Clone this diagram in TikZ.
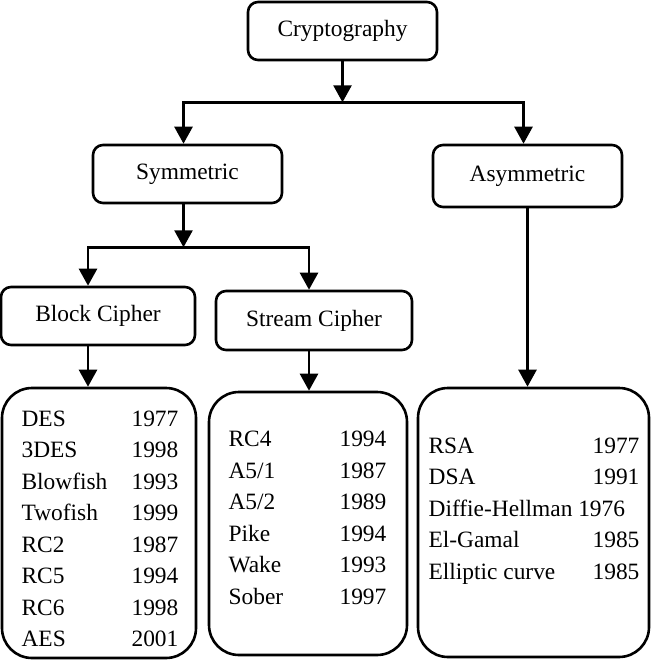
\documentclass[tikz,border=0pt]{standalone}
\usepackage{fontspec}
\setmainfont{Liberation Serif}
\usepackage{tikz}
\usetikzlibrary{positioning,arrows.meta,calc}

\begin{document}
\begin{tikzpicture}[x=0.5pt,y=-0.5pt,font=\fontsize{11.7}{15.75}\selectfont,
  catbox/.style={draw,line width=1.3pt,rounded corners=5pt,inner sep=0pt,
                 minimum width=94.5pt,minimum height=29pt},
  framebox/.style={draw,line width=1.3pt,rounded corners=15pt,inner sep=0pt},
  link/.style={line width=1.3pt},
  arr/.style={link,-{Triangle[length=8.5pt,width=9pt]}}]

\useasboundingbox (0,0) rectangle (662,662);

\node[catbox] (crypto) at (342.5,31) {Cryptography};
\node[catbox] (sym) at (187.5,174) {Symmetric};
\node[catbox,minimum height=31pt] (asym) at (527.5,176) {Asymmetric};
\node[catbox,minimum width=97pt] (blk) at (98,316) {Block Cipher};
\node[catbox,minimum width=98pt,minimum height=29.5pt] (strm) at (314,320.5) {Stream Cipher};

\node[framebox,minimum width=97pt,minimum height=135pt] (blkbox) at (99,523) {};
\node[framebox,minimum width=99pt,minimum height=131.5pt] (strmbox) at (308,523.5) {};
\node[framebox,minimum width=115.5pt,minimum height=134.5pt] (asymbox) at (533.5,522.5) {};

\node[inner sep=0pt] (blktxt) at (100,530)
{\begin{tabular}{@{}p{55pt}@{}r@{}}
DES & 1977\\
3DES & 1998\\
Blowfish & 1993\\
Twofish & 1999\\
RC2 & 1987\\
RC5 & 1994\\
RC6 & 1998\\
AES & 2001
\end{tabular}};
\node[inner sep=0pt] (strmtxt) at (307.5,519)
{\begin{tabular}{@{}p{55.5pt}@{}r@{}}
RC4 & 1994\\
A5/1 & 1987\\
A5/2 & 1989\\
Pike & 1994\\
Wake & 1993\\
Sober & 1997
\end{tabular}};
\node[inner sep=0pt] (asymtxt) at (534,510)
{\begin{tabular}{@{}p{82pt}@{}r@{}}
RSA & 1977\\
DSA & 1991\\
\multicolumn{2}{@{}l@{}}{Diffie-Hellman 1976}\\
El-Gamal & 1985\\
Elliptic curve & 1985
\end{tabular}};

\coordinate (cj) at ($(crypto.south)+(0,41)$);
\coordinate (sj) at ($(sym.south)+(0,43)$);

\draw[arr] (crypto) -- (cj);
\draw[arr] (cj) -| ([xshift=-2pt]sym.north);
\draw[arr] (cj) -| ([xshift=-2pt]asym.north);

\draw[arr] ([xshift=-2pt]sym.south) -- ([xshift=-2pt]sym.south |- sj);
\draw[link] ([xshift=-5pt]blk.north |- sj) -- ([xshift=-2.5pt]strm.north |- sj);
\draw[arr] (sj) -| ([xshift=-5pt]blk.north);
\draw[arr] (sj) -| ([xshift=-2.5pt]strm.north);

\draw[arr] ([xshift=-5pt]blk.south) -- ([xshift=-5pt]blk.south |- blkbox.north);
\draw[arr] ([xshift=-2.5pt]strm.south) -- ([xshift=-2.5pt]strm.south |- strmbox.north);
\draw[arr] (asym.south) -- (asym.south |- asymbox.north);

\end{tikzpicture}
\end{document}
